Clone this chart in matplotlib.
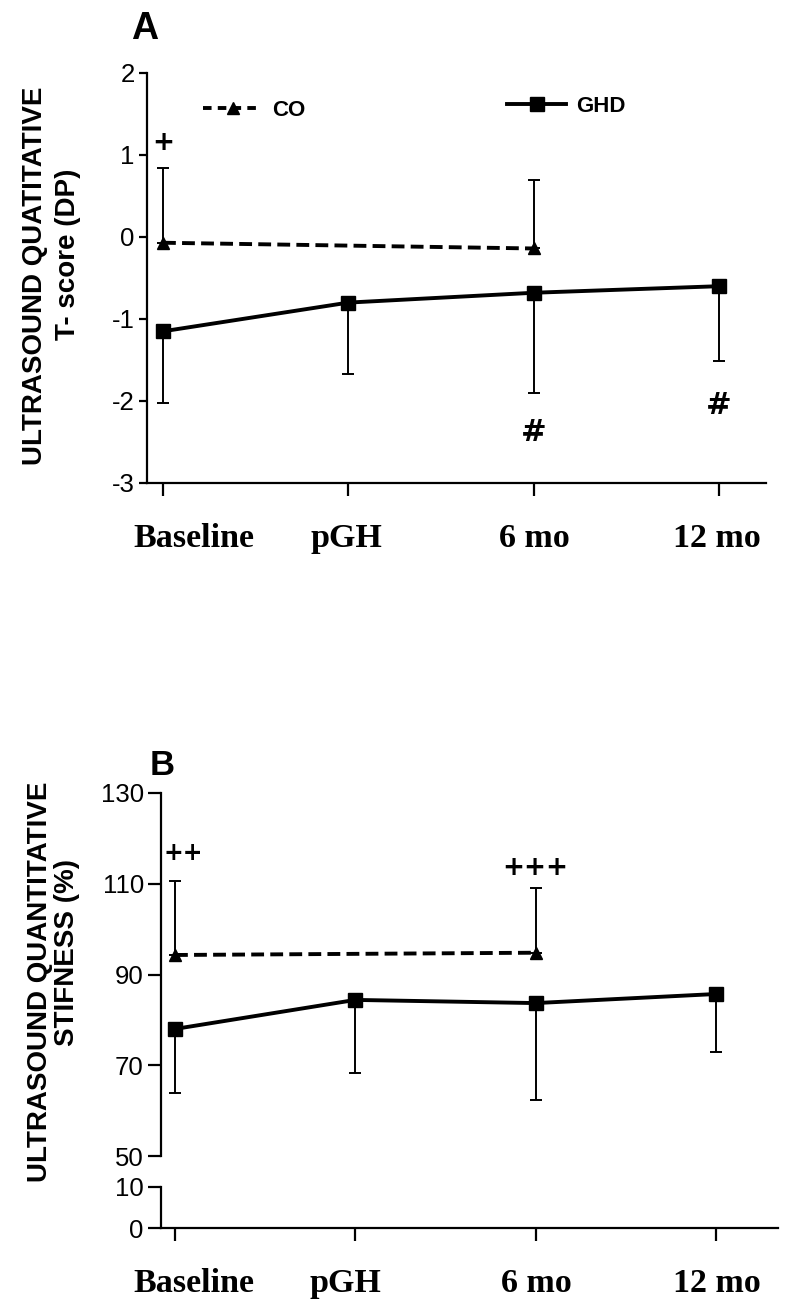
import matplotlib.pyplot as plt
from matplotlib.lines import Line2D
from matplotlib.transforms import ScaledTranslation

plt.rcParams['font.family'] = ['Liberation Sans', 'DejaVu Sans']
plt.rcParams['axes.unicode_minus'] = False

# dados
momentos = ['Baseline', 'pGH', '6 mo', '12 mo']
x_ghd = [0, 1, 2, 3]
x_co = [0, 2]

tscore_ghd = [-1.15, -0.80, -0.68, -0.60]
tscore_ghd_dp = [0.87, 0.87, 1.22, 0.91]
tscore_co = [-0.07, -0.14]
tscore_co_dp = [0.91, 0.84]

stiff_ghd = [78.0, 84.4, 83.7, 85.7]
stiff_ghd_dp = [14.2, 16.2, 21.3, 12.8]
stiff_co = [94.3, 94.8]
stiff_co_dp = [16.3, 14.3]

ticks_a = [-3, -2, -1, 0, 1, 2]
ticks_b_sup = [50, 70, 90, 110, 130]
ticks_b_inf = [0, 10]

W, H = 800, 1312
fig = plt.figure(figsize=(W / 100, H / 100), dpi=100)


def caixa(esq, topo, dir, base):
    return [esq / W, 1 - base / H, (dir - esq) / W, (base - topo) / H]


def estilo(ax, comp_y=8):
    for s in ['top', 'right']:
        ax.spines[s].set_visible(False)
    for s in ['left', 'bottom']:
        ax.spines[s].set_linewidth(1.6)
    ax.tick_params(axis='y', width=1.6, length=comp_y * 0.72, labelsize=18.5, pad=3)
    ax.tick_params(axis='x', width=1.6, length=9, pad=20)


def desloca_rotulos(ax, desl):
    for lab, dx in zip(ax.get_xticklabels(), desl):
        lab.set_transform(lab.get_transform() + ScaledTranslation(dx / 100, 0, fig.dpi_scale_trans))
        lab.set_fontfamily(['Liberation Serif', 'DejaVu Serif'])
        lab.set_fontweight('bold')
        lab.set_fontsize(24.5)


def desenha(ax, yg, dg, yc, dc):
    ax.errorbar(x_ghd, yg, yerr=[dg, [0] * len(dg)], fmt='none', ecolor='black',
                elinewidth=1.4, capsize=4.3, capthick=1.4, zorder=2)
    ax.errorbar(x_co, yc, yerr=[[0] * len(dc), dc], fmt='none', ecolor='black',
                elinewidth=1.4, capsize=4.3, capthick=1.4, zorder=2)
    ax.plot(x_ghd, yg, '-', color='black', lw=2.8, marker='s', ms=9.5, zorder=3)
    ax.plot(x_co, yc, '--', dashes=(3.3, 1.6), color='black', lw=2.8, marker='^', ms=9, zorder=3)


sinal = dict(ha='center', va='center', fontweight='bold', family=['DejaVu Sans'])

# ---------------- painel A ----------------
axA = fig.add_axes(caixa(147, 73, 766, 483))
desenha(axA, tscore_ghd, tscore_ghd_dp, tscore_co, tscore_co_dp)
axA.set_ylim(-3, 2)
axA.set_xlim(-16 / 185.3, (766 - 163) / 185.3)
axA.set_yticks(ticks_a)
axA.set_xticks(x_ghd)
axA.set_xticklabels(momentos)
estilo(axA, comp_y=8)
desloca_rotulos(axA, [31, -2, 1, -2])

axA.text(0, 1.15, '+', fontsize=19, **sinal)
axA.text(2, -2.39, '#', fontsize=22, **sinal)
axA.text(3, -2.06, '#', fontsize=22, **sinal)

h_co = Line2D([], [], color='black', lw=2.8, ls='--', dashes=(2.2, 1.6), marker='^', ms=9)
h_ghd = Line2D([], [], color='black', lw=2.8, marker='s', ms=9.5)
leg1 = axA.legend([h_co], ['CO'], loc='center left', bbox_to_anchor=(203 / W, 1 - 110 / H),
                  bbox_transform=fig.transFigure, frameon=False, borderpad=0, borderaxespad=0,
                  handlelength=2.66, handletextpad=0.45, numpoints=1,
                  prop={'size': 16, 'weight': 'bold'})
axA.add_artist(leg1)
axA.legend([h_ghd], ['GHD'], loc='center left', bbox_to_anchor=(507 / W, 1 - 106 / H),
           bbox_transform=fig.transFigure, frameon=False, borderpad=0, borderaxespad=0,
           handlelength=2.66, handletextpad=0.45, numpoints=1,
           prop={'size': 16, 'weight': 'bold'})

fig.text(145 / W, 1 - 29 / H, 'A', ha='center', va='center', fontsize=27, fontweight='bold')
fig.text(35 / W, 1 - 276 / H, 'ULTRASOUND QUATITATIVE', rotation=90, ha='center', va='center',
         fontsize=20, fontweight='bold')
fig.text(68 / W, 1 - 254 / H, 'T- score (DP)', rotation=90, ha='center', va='center',
         fontsize=20, fontweight='bold')

# ---------------- painel B (eixo quebrado) ----------------
xlimB = (-14 / 180.3, (778 - 175) / 180.3)
axB = fig.add_axes(caixa(161, 793, 778, 1156))
desenha(axB, stiff_ghd, stiff_ghd_dp, stiff_co, stiff_co_dp)
axB.set_ylim(50, 130)
axB.set_xlim(*xlimB)
axB.set_yticks(ticks_b_sup)
estilo(axB, comp_y=13)
axB.spines['bottom'].set_visible(False)
axB.tick_params(axis='x', bottom=False, labelbottom=False)

axB.text(0.044, 116.8, '++', fontsize=17, **sinal)
axB.text(2, 113.5, '+++', fontsize=19, **sinal)

axB2 = fig.add_axes(caixa(161, 1187, 778, 1228))
axB2.set_ylim(0, 10)
axB2.set_xlim(*xlimB)
axB2.set_yticks(ticks_b_inf)
axB2.set_xticks(x_ghd)
axB2.set_xticklabels(momentos)
estilo(axB2, comp_y=13)
desloca_rotulos(axB2, [19, -10, 1, 1])

fig.text(162 / W, 1 - 765 / H, 'B', ha='center', va='center', fontsize=25, fontweight='bold')
fig.text(40 / W, 1 - 982 / H, 'ULTRASOUND QUANTITATIVE', rotation=90, ha='center', va='center',
         fontsize=20, fontweight='bold')
fig.text(67 / W, 1 - 952 / H, 'STIFNESS (%)', rotation=90, ha='center', va='center',
         fontsize=20, fontweight='bold')

fig.savefig('out.png', dpi=100)
